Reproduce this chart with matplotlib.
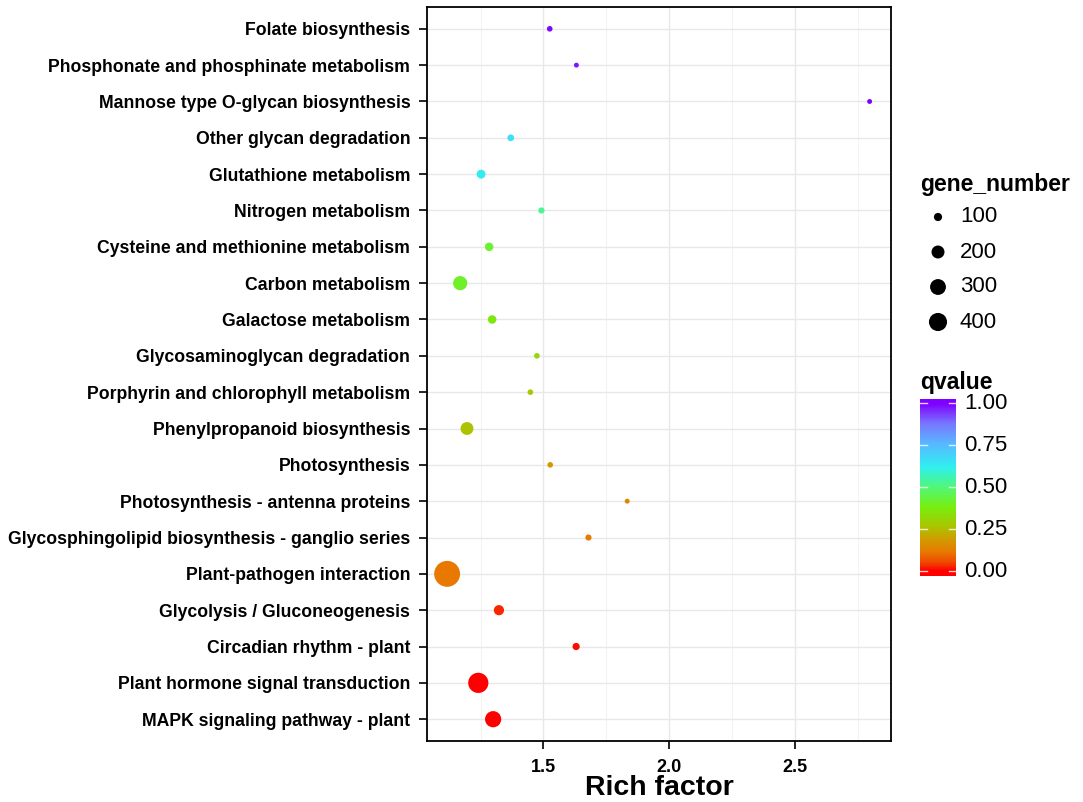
import matplotlib
matplotlib.use("Agg")
import matplotlib.pyplot as plt
from matplotlib.colors import LinearSegmentedColormap
import numpy as np

plt.rcParams["font.family"] = ["Liberation Sans", "DejaVu Sans"]

# ─── Data (top to bottom as shown) ────────────────────────────────────────────

pathways = [
    "Folate biosynthesis",
    "Phosphonate and phosphinate metabolism",
    "Mannose type O-glycan biosynthesis",
    "Other glycan degradation",
    "Glutathione metabolism",
    "Nitrogen metabolism",
    "Cysteine and methionine metabolism",
    "Carbon metabolism",
    "Galactose metabolism",
    "Glycosaminoglycan degradation",
    "Porphyrin and chlorophyll metabolism",
    "Phenylpropanoid biosynthesis",
    "Photosynthesis",
    "Photosynthesis - antenna proteins",
    "Glycosphingolipid biosynthesis - ganglio series",
    "Plant-pathogen interaction",
    "Glycolysis / Gluconeogenesis",
    "Circadian rhythm - plant",
    "Plant hormone signal transduction",
    "MAPK signaling pathway - plant",
]
rich_factor = [1.525, 1.631, 2.797, 1.370, 1.252, 1.492, 1.284, 1.169, 1.296, 1.474,
               1.448, 1.196, 1.527, 1.833, 1.679, 1.117, 1.323, 1.630, 1.241, 1.300]
gene_number = [81, 80, 80, 86, 109, 83, 104, 239, 104, 81,
               81, 197, 81, 80, 83, 890, 132, 90, 510, 315]
qvalue = [0.99, 0.98, 1.00, 0.66, 0.63, 0.53, 0.42, 0.41, 0.36, 0.32,
          0.28, 0.26, 0.18, 0.14, 0.12, 0.11, 0.03, 0.01, 0.00, 0.00]

size_breaks = [100, 200, 300, 400]
q_breaks = [0.00, 0.25, 0.50, 0.75, 1.00]

cmap = LinearSegmentedColormap.from_list("qv", [
    (0.00, "#FF0000"), (0.05, "#F04800"), (0.11, "#E87800"), (0.18, "#D49800"),
    (0.27, "#A8C800"), (0.38, "#78EE10"), (0.50, "#50F878"), (0.62, "#30F0F0"),
    (0.76, "#58B8FF"), (0.88, "#7878FF"), (1.00, "#8000FF"),
])

W, H = 1083, 802
n_min, n_max = min(gene_number), max(gene_number)


def diam_pt(n):
    # ggplot-like area scale: ~5 px .. ~26 px
    frac = np.clip((np.asarray(n, float) - n_min) / (n_max - n_min), 0, 1)
    return (4.9 + 21.0 * np.sqrt(frac)) * 0.72


def fig_rect(x0, y0, x1, y1):
    return [x0 / W, 1 - y1 / H, (x1 - x0) / W, (y1 - y0) / H]


fig = plt.figure(figsize=(W / 100, H / 100), dpi=100)

# ─── Main panel ───────────────────────────────────────────────────────────────
ax = fig.add_axes(fig_rect(427, 7, 891, 741))
ypos = np.arange(len(pathways))[::-1]
ax.scatter(rich_factor, ypos, s=diam_pt(gene_number) ** 2, c=qvalue, cmap=cmap,
           vmin=0, vmax=1, linewidths=0, zorder=3)
ax.set_xlim(1.037, 2.882)
ax.set_ylim(-0.6, len(pathways) - 0.4)
ax.set_yticks(ypos)
ax.set_yticklabels(pathways, fontsize=12.7, fontweight="bold")
ax.set_xticks([1.5, 2.0, 2.5])
ax.set_xticklabels(["1.5", "2.0", "2.5"], fontsize=13, fontweight="bold")
ax.set_xticks([1.25, 1.75, 2.25, 2.75], minor=True)
ax.grid(True, which="major", color="#E8E8E8", linewidth=1.0, zorder=0)
ax.grid(True, which="minor", axis="x", color="#F3F3F3", linewidth=0.8, zorder=0)
ax.tick_params(axis="both", which="major", length=6, width=1.2, color="black", pad=6)
ax.tick_params(axis="x", which="major", pad=7)
ax.tick_params(axis="x", which="minor", length=0)
for sp in ax.spines.values():
    sp.set_linewidth(1.3)
ax.set_axisbelow(True)
fig.text(659 / W, 1 / H, "Rich factor", fontsize=20.5, fontweight="bold",
         ha="center", va="bottom")

# ─── Size legend ──────────────────────────────────────────────────────────────
fig.text(920 / W, 1 - 184 / H, "gene_number", fontsize=16.5, fontweight="bold",
         ha="left", va="center")
lax = fig.add_axes(fig_rect(920, 200, 1080, 340))
lax.set_xlim(0, 1)
lax.axis("off")
ly = np.array([217, 252, 287, 322])
lax.set_ylim(340, 200)
lax.scatter([0.1125] * len(size_breaks), ly, s=diam_pt(size_breaks) ** 2,
            color="black", linewidths=0)
for v, y in zip(size_breaks, ly):
    lax.text(0.25, y, str(v), fontsize=16, ha="left", va="center")

# ─── Colour bar ───────────────────────────────────────────────────────────────
fig.text(920 / W, 1 - 382 / H, "qvalue", fontsize=16.5, fontweight="bold",
         ha="left", va="center")
cax = fig.add_axes(fig_rect(920, 399, 956, 576))
lo, hi = -0.028, 1.024
grad = np.clip(np.linspace(lo, hi, 300), 0, 1).reshape(-1, 1)
cax.imshow(grad, cmap=cmap, vmin=0, vmax=1, aspect="auto", origin="lower",
           extent=[0, 1, lo, hi])
cax.set_xlim(0, 1)
cax.set_ylim(lo, hi)
cax.axis("off")
for q in q_breaks:
    cax.plot([0, 0.2], [q, q], color="white", linewidth=1.0, alpha=0.8)
    cax.plot([0.8, 1], [q, q], color="white", linewidth=1.0, alpha=0.8)
    cax.text(1.22, q, f"{q:.2f}", fontsize=16, ha="left", va="center",
             transform=cax.transData)

fig.savefig("out.png", dpi=100)
